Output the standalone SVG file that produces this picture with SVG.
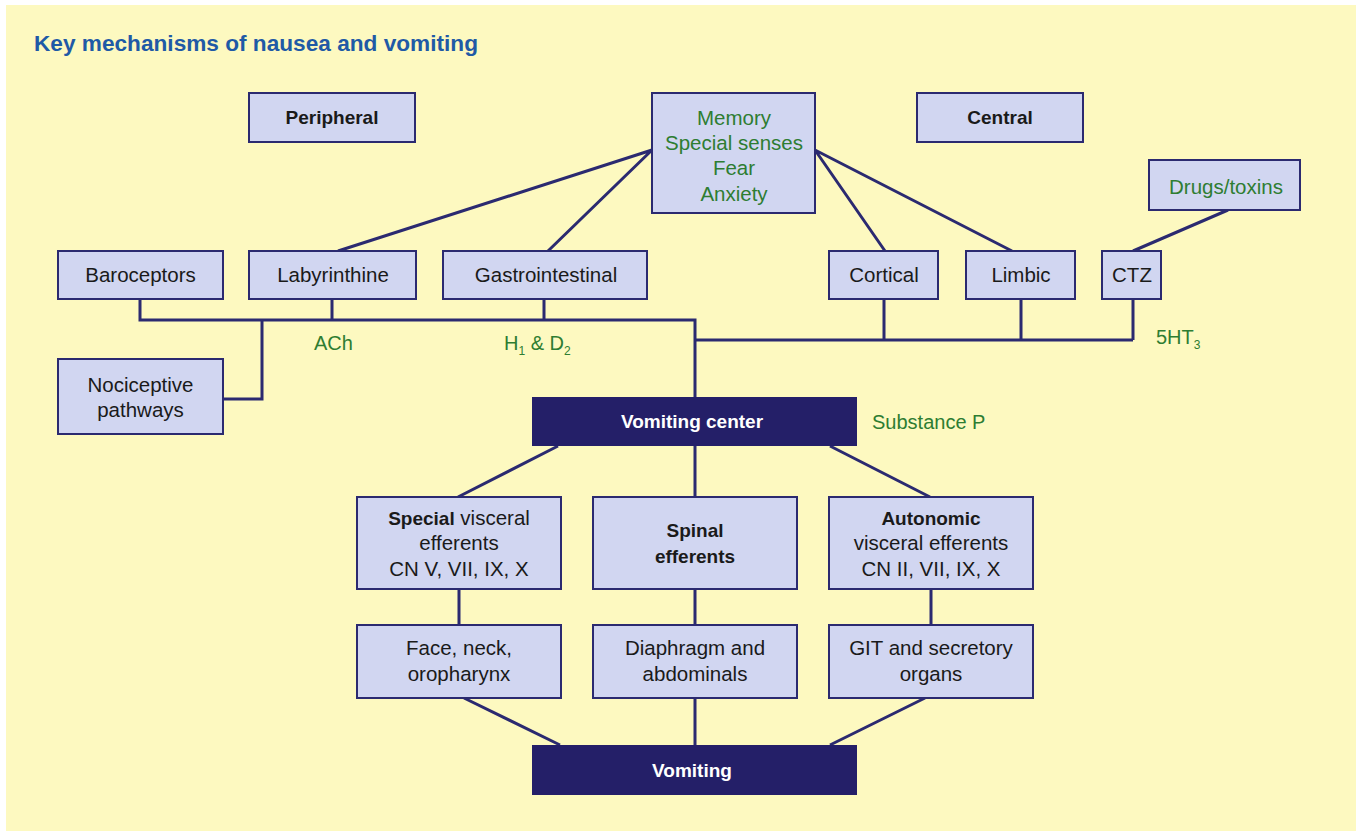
<svg xmlns="http://www.w3.org/2000/svg" width="1360" height="834" viewBox="0 0 1360 834">
<style>
.box{fill:#D1D6F1;stroke:#2B2A70;stroke-width:2}
.dark{fill:#241F68}
.t{font-family:"Liberation Sans",Arial,sans-serif;font-size:20.5px;fill:#1A1A1A;text-anchor:middle}
.b{font-weight:bold;font-size:19px}
.w{fill:#FFFFFF;font-weight:bold;font-size:19px}
.g{font-family:"Liberation Sans",Arial,sans-serif;font-size:20px;fill:#2E7D32}
.gm{fill:#2E7D32}
.c{fill:none;stroke:#2B2A70;stroke-width:3}
</style>
<rect x="6" y="5" width="1350" height="826" fill="#FDF9C0"/>
<text x="34" y="51" font-family="'Liberation Sans',Arial,sans-serif" font-size="22" font-weight="bold" fill="#1F5AA6" textLength="444" lengthAdjust="spacingAndGlyphs">Key mechanisms of nausea and vomiting</text>

<g id="connectors">
<path class="c" d="M652,150 L338,251 M652,150 L548,251 M815,150 L885,251 M815,150 L1012,251 M1228,210 L1133,251"/>
<path class="c" d="M140,299 V320 H695 V397 M332,299 V320 M544,299 V320 M223,399 H262 V320"/>
<path class="c" d="M695,340 H1133 M884,299 V340 M1021,299 V340 M1133,299 V340"/>
<path class="c" d="M558,446 L458,497 M695,446 V497 M830,446 L930,497"/>
<path class="c" d="M459,589 V625 M695,589 V625 M931,589 V625"/>
<path class="c" d="M464,698 L560,745 M695,698 V745 M925,698 L830,745"/>
</g>

<g id="peripheral"><rect class="box" x="249" y="93" width="166" height="49"/><text class="t b" x="332" y="124">Peripheral</text></g>
<g id="memory"><rect class="box" x="652" y="93" width="163" height="120"/>
<text class="t gm" x="734" y="125">Memory</text><text class="t gm" x="734" y="150">Special senses</text><text class="t gm" x="734" y="175">Fear</text><text class="t gm" x="734" y="201">Anxiety</text></g>
<g id="central"><rect class="box" x="917" y="93" width="166" height="49"/><text class="t b" x="1000" y="124">Central</text></g>
<g id="drugs"><rect class="box" x="1149" y="160" width="151" height="50"/><text class="t gm" x="1226" y="194">Drugs/toxins</text></g>

<g id="baroceptors"><rect class="box" x="58" y="251" width="165" height="48"/><text class="t" x="140.5" y="282">Baroceptors</text></g>
<g id="labyrinthine"><rect class="box" x="249" y="251" width="167" height="48"/><text class="t" x="333" y="282">Labyrinthine</text></g>
<g id="gastrointestinal"><rect class="box" x="443" y="251" width="204" height="48"/><text class="t" x="546" y="282">Gastrointestinal</text></g>
<g id="cortical"><rect class="box" x="829" y="251" width="109" height="48"/><text class="t" x="884" y="282">Cortical</text></g>
<g id="limbic"><rect class="box" x="966" y="251" width="109" height="48"/><text class="t" x="1021" y="282">Limbic</text></g>
<g id="ctz"><rect class="box" x="1102" y="251" width="59" height="48"/><text class="t" x="1132" y="282">CTZ</text></g>

<g id="nociceptive"><rect class="box" x="58" y="359" width="165" height="75"/><text class="t" x="140.5" y="392">Nociceptive</text><text class="t" x="140.5" y="417">pathways</text></g>

<g id="labels">
<text class="g" x="314" y="350">ACh</text>
<text class="g" x="504" y="350">H<tspan font-size="12" dy="5">1</tspan><tspan dy="-5"> &amp; D</tspan><tspan font-size="12" dy="5">2</tspan></text>
<text class="g" x="1156" y="344">5HT<tspan font-size="12" dy="5">3</tspan></text>
<text class="g" x="872" y="429">Substance P</text>
</g>

<g id="vomiting-center"><rect class="dark" x="532" y="397" width="325" height="49"/><text class="t w" x="692" y="428">Vomiting center</text></g>

<g id="special"><rect class="box" x="357" y="497" width="204" height="92"/>
<text class="t" x="459" y="525"><tspan font-weight="bold" font-size="19">Special</tspan> visceral</text><text class="t" x="459" y="550">efferents</text><text class="t" x="459" y="576">CN V, VII, IX, X</text></g>
<g id="spinal"><rect class="box" x="593" y="497" width="204" height="92"/>
<text class="t b" x="695" y="537">Spinal</text><text class="t b" x="695" y="563">efferents</text></g>
<g id="autonomic"><rect class="box" x="829" y="497" width="204" height="92"/>
<text class="t b" x="931" y="525">Autonomic</text><text class="t" x="931" y="550">visceral efferents</text><text class="t" x="931" y="576">CN II, VII, IX, X</text></g>

<g id="face"><rect class="box" x="357" y="625" width="204" height="73"/><text class="t" x="459" y="655">Face, neck,</text><text class="t" x="459" y="681">oropharynx</text></g>
<g id="diaphragm"><rect class="box" x="593" y="625" width="204" height="73"/><text class="t" x="695" y="655">Diaphragm and</text><text class="t" x="695" y="681">abdominals</text></g>
<g id="git"><rect class="box" x="829" y="625" width="204" height="73"/><text class="t" x="931" y="655">GIT and secretory</text><text class="t" x="931" y="681">organs</text></g>

<g id="vomiting"><rect class="dark" x="532" y="745" width="325" height="50"/><text class="t w" x="692" y="777">Vomiting</text></g>
</svg>
